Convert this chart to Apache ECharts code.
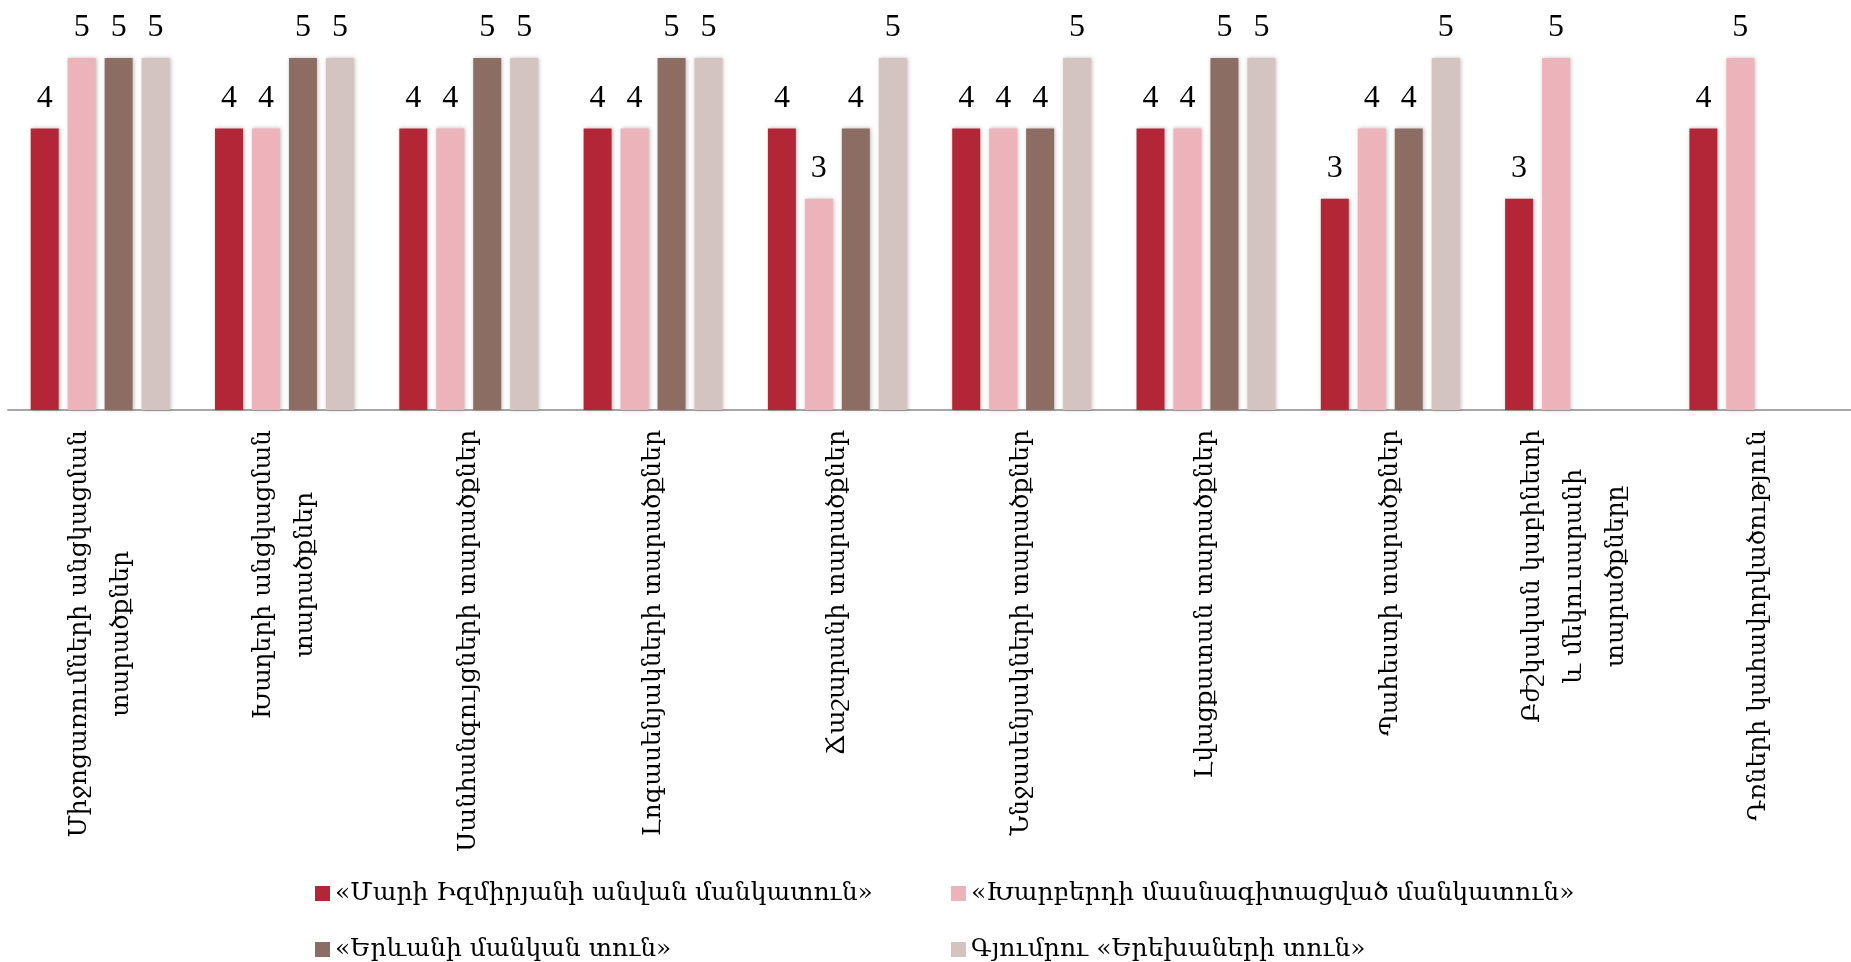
<!DOCTYPE html>
<html>
<head>
<meta charset="utf-8">
<script src="https://cdn.jsdelivr.net/npm/echarts@6/dist/echarts.min.js"></script>
<style>
	html, body { margin: 0; padding: 0; background: #fff; }
	#main { width: 1851px; height: 962px; }
</style>
</head>
<body>
<div id="main"></div>
<script>
	// categories (line breaks as in the original)
	var categories = [
		'Միջոցառումների անցկացման\nտարածքներ',
		'Խաղերի անցկացման\nտարածքներ',
		'Սանհանգույցների տարածքներ',
		'Լոգասենյակների տարածքներ',
		'Ճաշարանի տարածքներ',
		'Ննջասենյակների տարածքներ',
		'Լվացքատան տարածքներ',
		'Պահեստի տարածքներ',
		'Բժշկական կաբինետի\nև մեկուսարանի\nտարածքները',
		'Դռների կահավորվածություն'
	];

	var seriesNames = [
		'«Մարի Իզմիրյանի անվան մանկատուն»',
		'«Խարբերդի մասնագիտացված մանկատուն»',
		'«Երևանի մանկան տուն»',
		'Գյումրու «Երեխաների տուն»'
	];

	var mariIzmiryan = [4, 4, 4, 4, 4, 4, 4, 3, 3, 4];
	var kharberd     = [5, 4, 4, 4, 3, 4, 4, 4, 5, 5];
	var yerevan      = [5, 5, 5, 5, 4, 4, 5, 4, null, null];
	var gyumri       = [5, 5, 5, 5, 5, 5, 5, 5, null, null];

	var colors = ['#B32638', '#EDB3BA', '#8B6D64', '#D3C4C1'];

	var serif = "'Liberation Serif', 'DejaVu Serif', serif";
	var armFont = "'DejaVu Serif', serif";

	function makeSeries(name, data) {
		return {
			name: name,
			type: 'bar',
			data: data,
			barWidth: 28,
			barGap: '32%',
			itemStyle: {
				shadowBlur: 4,
				shadowColor: 'rgba(0,0,0,0.25)',
				shadowOffsetX: 1
			},
			label: {
				show: true,
				position: 'top',
				distance: 14,
				color: '#000',
				fontSize: 32,
				fontFamily: serif
			}
		}
	}

	// one legend per item so the 2x2 layout lines up like the original
	var legendPos = [[310, 876], [946, 876], [310, 932], [946, 932]];
	var legends = seriesNames.map(function (name, i) {
		return {
			left: legendPos[i][0],
			top: legendPos[i][1],
			itemWidth: 15,
			itemHeight: 15,
			icon: 'rect',
			data: [name],
			textStyle: { color: '#000', fontSize: 25, fontFamily: armFont }
		}
	});

	var myChart = echarts.init(document.getElementById('main'));
	var option = {
		animation: false,
		backgroundColor: '#fff',
		color: colors,
		grid: {
			left: 8,
			top: 58,
			width: 1853,
			bottom: 552
		},
		legend: legends,
		xAxis: {
			type: 'category',
			data: categories,
			axisLine: { lineStyle: { color: '#A6A6A6', width: 2 } },
			axisTick: { show: false },
			axisLabel: {
				interval: 0,
				rotate: 90,
				margin: 20,
				formatter: function (v) {
					return v.split('\n').map(function (s) { return '{c|' + s + '}' }).join('\n')
				},
				rich: {
					c: { align: 'center', color: '#000', fontSize: 25, lineHeight: 42, fontFamily: armFont }
				}
			}
		},
		yAxis: {
			type: 'value',
			min: 0,
			max: 5,
			show: false,
			splitLine: { show: false }
		},
		series: [
			makeSeries(seriesNames[0], mariIzmiryan),
			makeSeries(seriesNames[1], kharberd),
			makeSeries(seriesNames[2], yerevan),
			makeSeries(seriesNames[3], gyumri)
		]
	};
	myChart.setOption(option);
</script>
</body>
</html>
